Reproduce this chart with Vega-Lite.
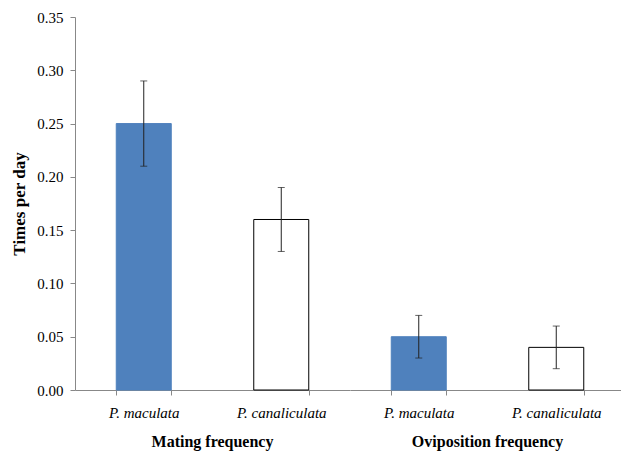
{
  "$schema": "https://vega.github.io/schema/vega-lite/v6.json",
  "padding": {"left": 10, "top": 10, "right": 0, "bottom": 5},
  "background": "white",
  "data": {
    "values": [
      {"group": "Mating frequency", "species": "P. maculata", "value": 0.25, "lo": 0.21, "hi": 0.29},
      {"group": "Mating frequency", "species": "P. canaliculata", "value": 0.16, "lo": 0.13, "hi": 0.19},
      {"group": "Oviposition frequency", "species": "P. maculata", "value": 0.05, "lo": 0.03, "hi": 0.07},
      {"group": "Oviposition frequency", "species": "P. canaliculata", "value": 0.04, "lo": 0.02, "hi": 0.06}
    ]
  },
  "facet": {
    "column": {
      "field": "group",
      "type": "nominal",
      "sort": ["Mating frequency", "Oviposition frequency"],
      "title": null,
      "header": {
        "labelOrient": "bottom",
        "labelFont": "Times New Roman",
        "labelFontSize": 16,
        "labelFontWeight": "bold",
        "labelColor": "black",
        "labelPadding": 14
      }
    }
  },
  "spacing": 0,
  "resolve": {"scale": {"x": "independent"}},
  "spec": {
    "width": 275,
    "height": 373,
    "layer": [
      {
        "mark": {"type": "bar", "strokeWidth": 1},
        "encoding": {
          "x": {
            "field": "species",
            "type": "nominal",
            "sort": ["P. maculata", "P. canaliculata"],
            "scale": {"paddingInner": 0.6, "paddingOuter": 0.3},
            "axis": {
              "title": null,
              "labelAngle": 0,
              "labelFont": "Times New Roman",
              "labelFontSize": 15,
              "labelFontStyle": "italic",
              "labelColor": "black",
              "labelPadding": 10,
              "tickBand": "extent",
              "tickSize": 5,
              "tickColor": "#888888",
              "domainColor": "#888888",
              "grid": false
            }
          },
          "y": {
            "field": "value",
            "type": "quantitative",
            "title": "Times per day",
            "scale": {"domain": [0, 0.35]},
            "axis": {
              "titleFont": "Times New Roman",
              "titleFontSize": 17,
              "titleFontWeight": "bold",
              "titleColor": "black",
              "titlePadding": 8,
              "values": [0, 0.05, 0.1, 0.15, 0.2, 0.25, 0.3, 0.35],
              "format": ".2f",
              "labelFont": "Times New Roman",
              "labelFontSize": 15,
              "labelColor": "black",
              "labelPadding": 7,
              "tickSize": 5,
              "tickColor": "#888888",
              "domainColor": "#888888",
              "grid": false
            }
          },
          "fill": {
            "field": "species",
            "type": "nominal",
            "scale": {"domain": ["P. maculata", "P. canaliculata"], "range": ["#4F81BD", "#ffffff"]},
            "legend": null
          },
          "stroke": {
            "field": "species",
            "type": "nominal",
            "scale": {"domain": ["P. maculata", "P. canaliculata"], "range": ["#4F81BD", "#000000"]},
            "legend": null
          }
        }
      },
      {
        "mark": {"type": "errorbar", "ticks": {"size": 7}, "color": "#222222", "thickness": 1},
        "encoding": {
          "x": {"field": "species", "type": "nominal", "sort": ["P. maculata", "P. canaliculata"]},
          "y": {"field": "lo", "type": "quantitative", "title": "Times per day"},
          "y2": {"field": "hi"}
        }
      }
    ]
  },
  "config": {"view": {"stroke": null}}
}
